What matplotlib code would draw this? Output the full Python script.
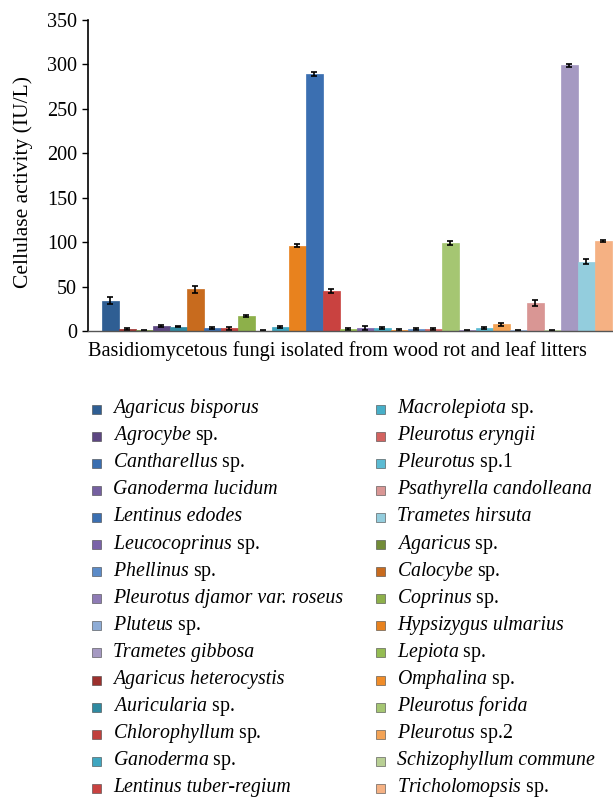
import matplotlib
matplotlib.use("Agg")
import matplotlib.pyplot as plt
from matplotlib.patches import Rectangle
import numpy as np

# bars, in plotting order (left to right)
species = [
    "Agaricus bisporus", "Agaricus heterocystis", "Agaricus sp.", "Agrocybe sp.",
    "Auricularia sp.", "Calocybe sp.", "Cantharellus sp.", "Chlorophyllum sp.",
    "Coprinus sp.", "Ganoderma lucidum", "Ganoderma sp.", "Hypsizygus ulmarius",
    "Lentinus edodes", "Lentinus tuber-regium", "Lepiota sp.", "Leucocoprinus sp.",
    "Macrolepiota sp.", "Omphalina sp.", "Phellinus sp.", "Pleurotus eryngii",
    "Pleurotus forida", "Pleurotus djamor var. roseus", "Pleurotus sp.1", "Pleurotus sp.2",
    "Pluteus sp.", "Psathyrella candolleana", "Schizophyllum commune", "Trametes gibbosa",
    "Trametes hirsuta", "Tricholomopsis sp.",
]
activity = [34, 2, 1, 6, 5, 47, 3.5, 3, 17, 0.5, 4.5, 96, 289, 45, 2, 3.5,
            3, 1.5, 2.5, 2.5, 99, 1, 3, 7.5, 1, 31.5, 1, 299, 78, 101]
error = [4, 1, 0.5, 1, 1, 4, 1, 1.5, 1.5, 0.5, 1, 1.5, 2, 2, 1, 2.5,
         1, 1, 1, 1, 2.5, 0.5, 1, 2, 0.5, 3, 0.5, 1.5, 3, 1]
colors = [
    "#2f5e93", "#9c302d", "#728c38", "#5d4782", "#2f8aa1", "#c86b1e",
    "#3a6eb0", "#c0403d", "#8db04a", "#7560a0", "#3fa6c0", "#e8821e",
    "#3b6fb1", "#c94240", "#94bc52", "#7a62a8", "#47afc8", "#f08c28",
    "#5b8bc8", "#d36360", "#a5c672", "#8e7bb5", "#5bbbd3", "#f4a355",
    "#8eacd6", "#d99694", "#b8cf94", "#a599c2", "#93cddd", "#f5b183",
]

# legend order as printed (two columns)
legend_left = [
    "Agaricus bisporus", "Agrocybe sp.", "Cantharellus sp.", "Ganoderma lucidum",
    "Lentinus edodes", "Leucocoprinus sp.", "Phellinus sp.", "Pleurotus djamor var. roseus",
    "Pluteus sp.", "Trametes gibbosa", "Agaricus heterocystis", "Auricularia sp.",
    "Chlorophyllum sp.", "Ganoderma sp.", "Lentinus tuber-regium",
]
legend_right = [
    "Macrolepiota sp.", "Pleurotus eryngii", "Pleurotus sp.1", "Psathyrella candolleana",
    "Trametes hirsuta", "Agaricus sp.", "Calocybe sp.", "Coprinus sp.",
    "Hypsizygus ulmarius", "Lepiota sp.", "Omphalina sp.", "Pleurotus forida",
    "Pleurotus sp.2", "Schizophyllum commune", "Tricholomopsis sp.",
]

plt.rcParams.update({
    "font.family": "Liberation Serif",
    "mathtext.fontset": "custom",
    "mathtext.it": "Liberation Serif:italic",
    "mathtext.rm": "Liberation Serif",
})

W, H = 613, 798
fig = plt.figure(figsize=(W / 100, H / 100), dpi=100)
ax = fig.add_axes([88 / W, 1 - 331 / H, 525 / W, 311 / H])

x = np.arange(len(species))
ax.bar(x, activity, width=1.0, color=colors, edgecolor=colors, linewidth=0.5)
ax.errorbar(x, activity, yerr=error, fmt="none", ecolor="black",
            elinewidth=1.2, capsize=2.5, capthick=1.2)

ax.set_xlim(-1.32, 29.56)
ax.set_ylim(0, 350)
ax.set_yticks(np.arange(0, 351, 50))
ax.set_xticks([])
ax.tick_params(axis="y", direction="out", length=4, width=1, labelsize=14.5, pad=4)
for s in ["top", "right"]:
    ax.spines[s].set_visible(False)
ax.spines["left"].set_linewidth(1.2)
ax.spines["bottom"].set_color("#555555")
ax.spines["bottom"].set_linewidth(1.0)
ax.set_ylabel("Cellulase activity (IU/L)", fontsize=15.5)
ax.yaxis.set_label_coords(-0.105, 0.48)
ax.set_xlabel("Basidiomycetous fungi isolated from wood rot and leaf litters",
              fontsize=14.6, labelpad=7)
ax.xaxis.set_label_coords(0.475, -0.032)
ax.xaxis.label.set_va("top")

# legend, drawn entry by entry in two columns
color_of = dict(zip(species, colors))
row_gap = 27.1
for col, (names, mx, tx) in enumerate([(legend_left, 96.5, 113),
                                      (legend_right, 380, 397)]):
    for i, name in enumerate(names):
        base = 413 + i * row_gap
        c = color_of[name]
        fig.add_artist(Rectangle(((mx - 4.5) / W, 1 - (base + 0.5) / H), 9 / W, 9 / H,
                                 transform=fig.transFigure, facecolor=c,
                                 edgecolor="#444444", linewidth=0.4))
        if " sp." in name:
            genus, rest = name.split(" sp.")
            label = r"$\mathit{%s}$ sp.%s" % (genus, rest)
            style = "normal"
        else:
            label = name
            style = "italic"
        fig.text(tx / W, 1 - base / H, label, fontsize=14.3, style=style,
                 ha="left", va="baseline")

fig.savefig("out.png", dpi=100)
